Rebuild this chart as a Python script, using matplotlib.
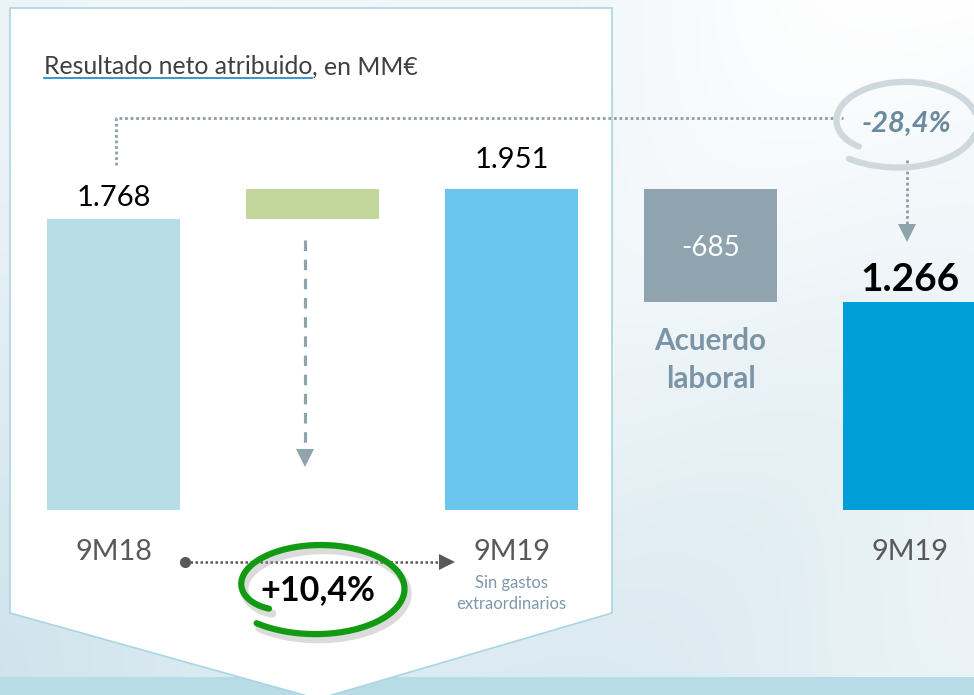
import numpy as np
import matplotlib
matplotlib.use("Agg")
import matplotlib.pyplot as plt
from matplotlib.patches import Polygon, Rectangle

# ---------------- data ----------------
steps = ["9M18", "Variación", "9M19 sin gastos", "Acuerdo laboral", "9M19"]
kinds = ["total", "delta", "total", "delta", "total"]
values = [1768, 183, 1951, -685, 1266]
value_labels = ["1.768", "", "1.951", "-685", "1.266"]
period_labels = ["9M18", "", "9M19", "", "9M19"]
growth_label = "+10,4%"
decline_label = "-28,4%"
title_main = "Resultado neto atribuido"
title_rest = ", en MM€"
bar_colors = ["#b7dde8", "#c3d69b", "#6bc5ed", "#8fa4ae", "#009ed9"]

# ---------------- figure ----------------
W, H = 974, 695
fig = plt.figure(figsize=(W / 100, H / 100), dpi=100)
ax = fig.add_axes([0, 0, 1, 1])
XL = (-113.5 / 199, (W - 113.5) / 199)
upp = 1951 / 321.0
YL = (-(H - 510) * upp, 510 * upp)
ax.set_xlim(*XL)
ax.set_ylim(*YL)
ax.axis("off")

def X(px):
    return XL[0] + px / W * (XL[1] - XL[0])

def Y(py):
    return YL[1] - py / H * (YL[1] - YL[0])

FONT = "Lato"

# background (soft light-blue wash)
gx, gy = np.meshgrid(np.linspace(0, 1, 300), np.linspace(0, 1, 220))
w = 0.6 + 0.35 * gx - 0.45 * gy + 0.08 * np.sin(9 * (gx + 0.6 * gy))
w = np.clip(w, 0, 1)
base = np.array([0.80, 0.88, 0.92])
img = base[None, None, :] * (1 - w[..., None]) + 1.0 * w[..., None]
ax.imshow(img, extent=[XL[0], XL[1], YL[0], YL[1]], origin="upper",
          aspect="auto", zorder=0)

# bottom band
ax.add_patch(Rectangle((XL[0], YL[0]), XL[1] - XL[0], Y(677) - YL[0],
                       facecolor="#b8dce6", edgecolor="none", zorder=0.5))

# white panel with arrow tip
panel = [(X(10), Y(8)), (X(612), Y(8)), (X(612), Y(613)), (X(318), Y(699)),
         (X(10), Y(613))]
ax.add_patch(Polygon(panel, closed=True, facecolor="white",
                     edgecolor="#a9d6e5", lw=1.2, zorder=1))

# ---------------- bars ----------------
bottoms, heights, tops = [], [], []
running = 0
for k, v in zip(kinds, values):
    if k == "total":
        b, h = 0, v
        running = v
    else:
        b, h = (running, v) if v >= 0 else (running + v, -v)
        running += v
    bottoms.append(b)
    heights.append(h)
    tops.append(b + h)

xs = np.arange(len(steps))
ax.bar(xs, heights, bottom=bottoms, width=0.668, color=bar_colors,
       zorder=3, linewidth=0)

# value labels
label_offsets = [15, 0, 21, 0, 16]
for i, lab in enumerate(value_labels):
    if not lab:
        continue
    if kinds[i] == "delta":
        ax.annotate(lab, (xs[i], bottoms[i] + heights[i] / 2), xytext=(0, -2),
                    textcoords="offset points", ha="center", va="center",
                    color="white", fontsize=20, family=FONT, zorder=5)
    elif i == len(steps) - 1:
        ax.annotate(lab, (xs[i], tops[i]), xytext=(0, label_offsets[i]),
                    textcoords="offset points", ha="center", va="center",
                    fontsize=28, fontweight="bold", color="black",
                    family=FONT, zorder=5)
    else:
        ax.annotate(lab, (xs[i], tops[i]), xytext=(0, label_offsets[i]),
                    textcoords="offset points", ha="center", va="center",
                    fontsize=21, color="black", family=FONT, zorder=5)

# category labels
for i, lab in enumerate(period_labels):
    if lab:
        ax.text(xs[i], Y(552), lab, ha="center", va="center", fontsize=20.8,
                color="#595959", family=FONT, zorder=5)
ax.text(xs[2], Y(583), "Sin gastos", ha="center", va="center", fontsize=12,
        color="#7f97ab", family=FONT, zorder=5)
ax.text(xs[2], Y(604), "extraordinarios", ha="center", va="center",
        fontsize=12, color="#7f97ab", family=FONT, zorder=5)
ax.text(xs[3], Y(341), "Acuerdo", ha="center", va="center", fontsize=21.3,
        fontweight="bold", color="#7b95a7", family=FONT, zorder=5)
ax.text(xs[3], Y(379), "laboral", ha="center", va="center", fontsize=21.3,
        fontweight="bold", color="#7b95a7", family=FONT, zorder=5)

# title with underline
t1 = ax.text(X(44), Y(67), title_main, ha="left", va="center", fontsize=17.8,
             color="#404040", family=FONT, zorder=5)
fig.canvas.draw()
bb = t1.get_window_extent(fig.canvas.get_renderer())
inv = ax.transData.inverted()
x_end = inv.transform((bb.x1, 0))[0]
ax.text(x_end, Y(67), title_rest, ha="left", va="center", fontsize=17.8,
        color="#404040", family=FONT, zorder=5)
ax.plot([X(44), x_end], [Y(78), Y(78)], color="#2b8cce", lw=1.3, zorder=5)

# ---------------- decorations ----------------
# dotted arrow 9M18 -> 9M19
ax.plot([X(185), X(442)], [Y(562), Y(562)], color="#595959", lw=1.8,
        linestyle=(0, (1, 1)), zorder=4)
ax.plot([X(185)], [Y(562)], marker="o", ms=7, color="#595959", zorder=4)
ax.plot([X(447)], [Y(562)], marker=">", ms=11, color="#595959",
        markeredgewidth=0, zorder=4)

# dashed arrow below green bar
ax.plot([X(305), X(305)], [Y(240), Y(452)], color="#90a4ae", lw=2.3,
        linestyle=(0, (3.3, 2.7)), zorder=4)
ax.plot([X(305)], [Y(458)], marker="v", ms=13, color="#90a4ae",
        markeredgewidth=0, zorder=4)

# top dotted connector
ax.plot([X(116), X(116), X(843)], [Y(165), Y(118), Y(118)], color="#8c9ea8",
        lw=2.0, linestyle=(0, (1, 1)), zorder=4)
ax.plot([X(907), X(907)], [Y(160), Y(228)], color="#8c9ea8", lw=2.0,
        linestyle=(0, (1, 1)), zorder=4)
ax.plot([X(907)], [Y(233)], marker="v", ms=13, color="#8fa3ad",
        markeredgewidth=0, zorder=4)


def loop(cx, cy, a, b, th0, sweep, r0, r1):
    u = np.linspace(0, 1, 400)
    th = np.deg2rad(th0 - sweep * u)
    r = 1 - (1 - r0) * np.exp(-u / 0.08) + (r1 - 1) * u ** 4
    px = cx + a * r * np.cos(th)
    py = cy - b * r * np.sin(th)
    return X(px), Y(py), px, py


# green loop around +10,4%
gxs, gys, gpx, gpy = loop(320, 588, 83, 43, 218, 351, 0.78, 1.12)
ax.plot(X(gpx + 3), Y(gpy + 5), color="#9a9a9a", lw=6, alpha=0.35,
        solid_capstyle="round", zorder=4)
ax.plot(gxs, gys, color="#129b12", lw=4.5, solid_capstyle="round", zorder=5)
ax.text(X(318), Y(590), growth_label, ha="center", va="center",
        fontsize=24.5, fontweight="bold", color="black", family=FONT, zorder=6)

# grey loop around -28,4%
cxs, cys, _, _ = loop(905, 122, 70, 40, 223, 354, 0.9, 1.22)
ax.plot(cxs, cys, color="#cfd8dc", lw=4.5, solid_capstyle="round", zorder=5)
ax.text(X(907), Y(124), decline_label, ha="center", va="center",
        fontsize=21, fontweight="bold", style="italic", color="#6b8a9e",
        family=FONT, zorder=6)

fig.savefig("out.png", dpi=100)
